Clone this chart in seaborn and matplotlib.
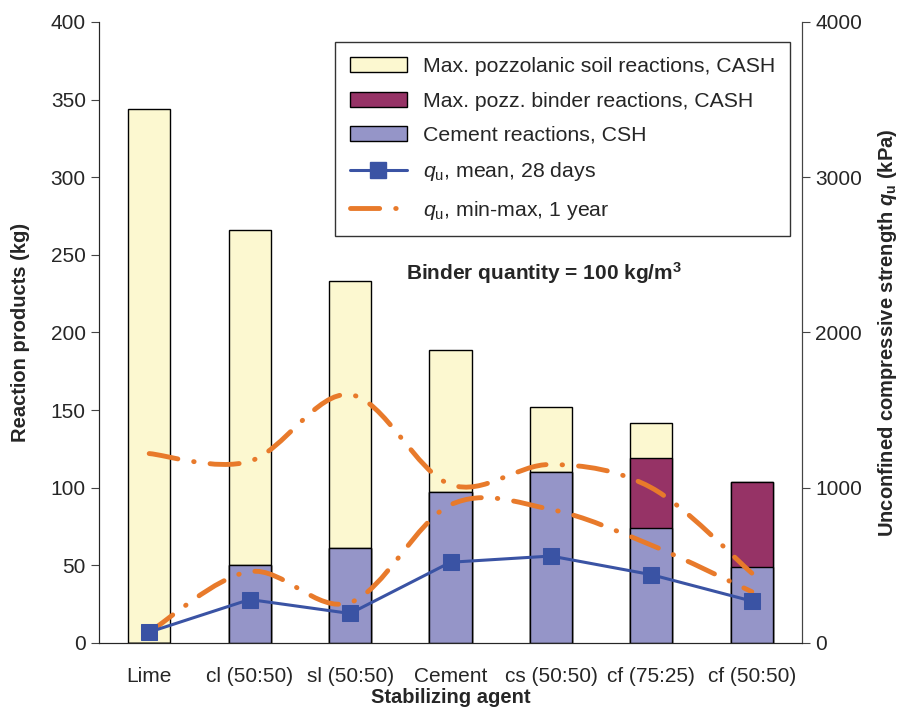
import numpy as np
import pandas as pd
import matplotlib
matplotlib.use("Agg")
import matplotlib.pyplot as plt
import seaborn as sns
from matplotlib.path import Path
from matplotlib.patches import PathPatch, Patch
from matplotlib.lines import Line2D

# Dados
agentes = ["Lime", "cl (50:50)", "sl (50:50)", "Cement", "cs (50:50)", "cf (75:25)", "cf (50:50)"]
csh = [0, 50, 61, 97, 110, 74, 49]             # Cement reactions, CSH (kg)
cash_ligante = [0, 0, 0, 0, 0, 45, 55]         # Max. pozz. binder reactions (kg)
cash_solo = [344, 216, 172, 92, 42, 23, 0]      # Max. pozzolanic soil reactions (kg)
qu_media = [70, 280, 190, 520, 560, 440, 270]   # qu mean 28 days (kPa)
qu_max = [1220, 1170, 1600, 1020, 1150, 1000, 450]
qu_min = [70, 460, 260, 890, 860, 630, 330]

cor_solo = "#FCF8D0"
cor_ligante = "#963366"
cor_csh = "#9595C8"
cor_media = "#3A53A4"
cor_laranja = "#E87A2B"

sns.set_style("white")
plt.rcParams["font.family"] = ["Liberation Sans", "DejaVu Sans"]
plt.rcParams["mathtext.fontset"] = "custom"
plt.rcParams["mathtext.rm"] = "Liberation Sans"
plt.rcParams["mathtext.it"] = "Liberation Sans:italic"
plt.rcParams["mathtext.bf"] = "Liberation Sans:bold"
plt.rcParams["mathtext.bfit"] = "Liberation Sans:bold:italic"

df = pd.DataFrame({"agente": agentes, "csh": csh, "lig": cash_ligante, "solo": cash_solo})
df["csh_lig"] = df["csh"] + df["lig"]
df["total"] = df["csh_lig"] + df["solo"]

fig = plt.figure(figsize=(9.03, 7.13), dpi=100)
ax = fig.add_axes([0.1096, 0.0982, 0.7786, 0.871])

# barras empilhadas (sobrepostas do total para baixo)
for col, cor in [("total", cor_solo), ("csh_lig", cor_ligante), ("csh", cor_csh)]:
    sns.barplot(data=df, x="agente", y=col, color=cor, width=0.42, edgecolor="black",
                linewidth=1, saturation=1, ax=ax)

ax.set_xlim(-0.5, 6.5)
ax.set_ylim(0, 400)
ax.set_yticks(range(0, 401, 50))
ax.set_xlabel("Stabilizing agent", fontsize=14.5, fontweight="bold", labelpad=2)
ax.set_ylabel("Reaction products (kg)", fontsize=14.5, fontweight="bold", labelpad=15)
ax.tick_params(axis="x", length=0, pad=17, labelsize=15)
ax.set_xticks(np.arange(-0.5, 7, 1), minor=True)
ax.tick_params(axis="x", which="minor", length=8, direction="out", color="#444444", width=1)
ax.tick_params(axis="y", length=6, direction="out", labelsize=15, color="#444444", left=True)
for s in ["left", "bottom", "right"]:
    ax.spines[s].set_color("#444444")
ax.spines["top"].set_visible(False)

ax2 = ax.twinx()
ax2.set_ylim(0, 4000)
ax2.set_yticks(range(0, 4001, 1000))
ax2.tick_params(axis="y", length=6, direction="out", labelsize=15, color="#444444", right=True)
ax2.spines["top"].set_visible(False)
ax2.spines["right"].set_color("#444444")
ax2.set_ylabel(r"Unconfined compressive strength $\mathbfit{q}_{\mathbf{u}}$ (kPa)",
               fontsize=14.5, fontweight="bold", labelpad=10)

x = np.arange(len(agentes))


def curva_suave(axis, xs, ys, **kw):
    # curva tipo "smoothed line" (Bezier) passando pelos pontos
    pts = np.column_stack([xs, ys]).astype(float)
    verts = [pts[0]]
    codes = [Path.MOVETO]
    n = len(pts)
    for i in range(n - 1):
        p0 = pts[i - 1] if i > 0 else pts[i]
        p1, p2 = pts[i], pts[i + 1]
        p3 = pts[i + 2] if i + 2 < n else pts[i + 1]
        c1 = p1 + (p2 - p0) / 6
        c2 = p2 - (p3 - p1) / 6
        verts += [c1, c2, p2]
        codes += [Path.CURVE4] * 3
    axis.add_patch(PathPatch(Path(verts, codes), fill=False, **kw))


tracejado = (0, (6, 3.3, 0.1, 3.3))
estilo = dict(edgecolor=cor_laranja, lw=3.5, linestyle=tracejado, capstyle="round", zorder=3)
curva_suave(ax2, x, qu_max, **estilo)
curva_suave(ax2, x, qu_min, **estilo)

sns.lineplot(x=x, y=qu_media, color=cor_media, lw=2.2, marker="s", markersize=11.5,
             markeredgecolor=cor_media, ax=ax2, zorder=4)

ax2.text(3.93, 2380, r"Binder quantity = 100 kg/m$^{\mathbf{3}}$", ha="center", va="center",
         fontsize=15, fontweight="bold")

handles = [
    Patch(facecolor=cor_solo, edgecolor="black", linewidth=1),
    Patch(facecolor=cor_ligante, edgecolor="black", linewidth=1),
    Patch(facecolor=cor_csh, edgecolor="black", linewidth=1),
    Line2D([], [], color=cor_media, lw=2.2, marker="s", markersize=11.5),
    Line2D([], [], color=cor_laranja, lw=3.5, linestyle=tracejado, dash_capstyle="round"),
]
labels = [
    "Max. pozzolanic soil reactions, CASH",
    "Max. pozz. binder reactions, CASH",
    "Cement reactions, CSH",
    r"$q_{\mathrm{u}}$, mean, 28 days",
    r"$q_{\mathrm{u}}$, min-max, 1 year",
]
leg = ax2.legend(handles, labels, loc="upper right", bbox_to_anchor=(0.983, 0.967), fontsize=15.3,
                 frameon=True, fancybox=False, edgecolor="black", handlelength=2.7,
                 handleheight=0.7, labelspacing=0.72, borderpad=0.7, handletextpad=0.75,
                 borderaxespad=0)
leg.get_frame().set_linewidth(1)
leg.set_zorder(10)

fig.savefig("out.png", dpi=100)
